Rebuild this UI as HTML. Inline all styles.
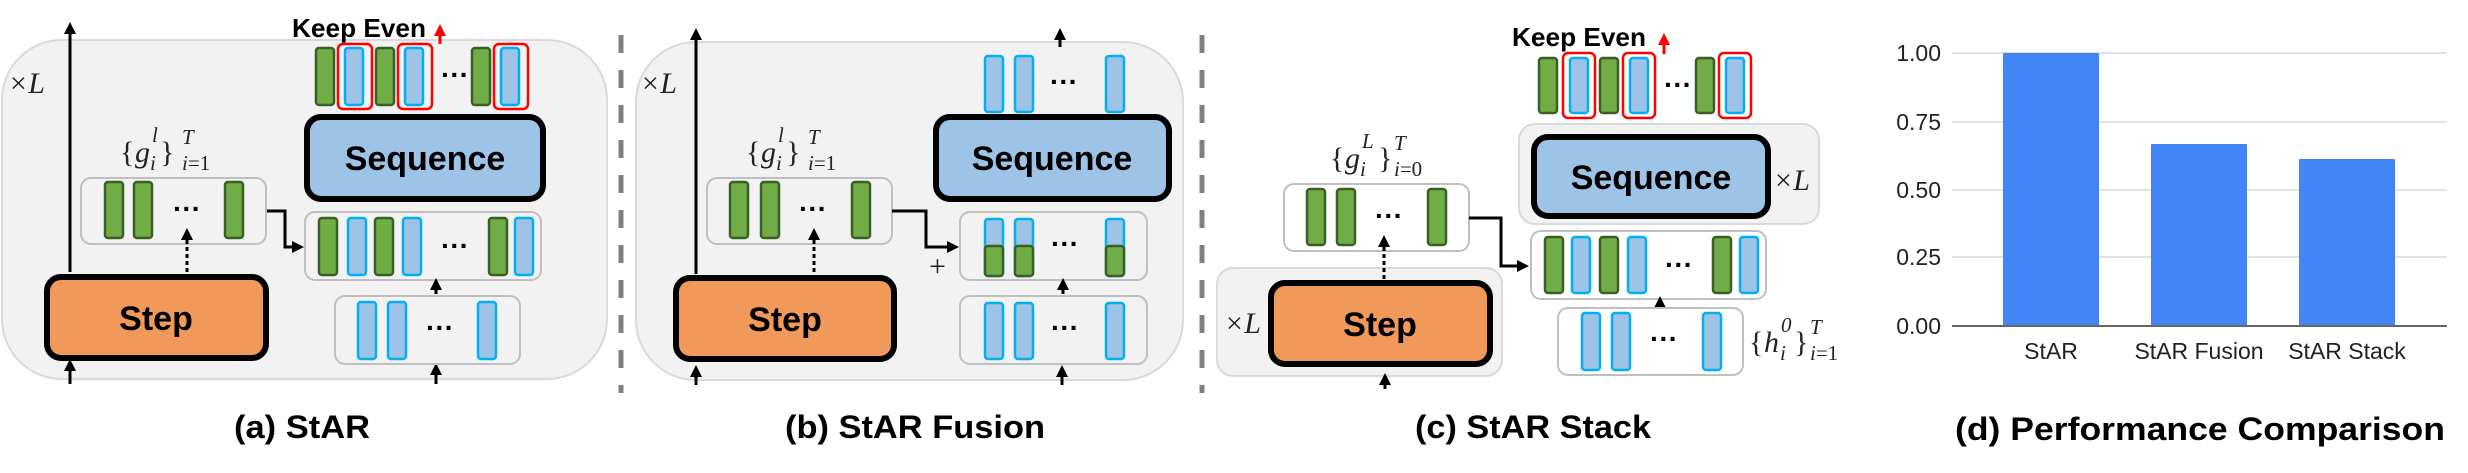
<!DOCTYPE html>
<html><head><meta charset="utf-8"><style>
html,body{margin:0;padding:0;background:#fff;}
svg{display:block;}
.g{fill:#70AD47;stroke:#3A5F24;stroke-width:2.5;}
.b{fill:#9DC3E6;stroke:#00B0F0;stroke-width:2.5;}
.rb{fill:none;stroke:#FF0000;stroke-width:2.5;}
.box{fill:#F2F2F2;stroke:#BFBFBF;stroke-width:2;}
.wbox{fill:#FFFFFF;stroke:#BFBFBF;stroke-width:2;}
.pan{fill:#F2F2F2;stroke:#D9D9D9;stroke-width:2;}
.seq{fill:#9DC3E6;stroke:#000;stroke-width:6;}
.step{fill:#F0995A;stroke:#000;stroke-width:6;}
.ln{stroke:#000;stroke-width:3;fill:none;}
.dl{stroke:#000;stroke-width:3;fill:none;stroke-dasharray:4 3;}
.sep{stroke:#808080;stroke-width:5;stroke-dasharray:18 17;}
.lbl{font-family:"Liberation Sans",sans-serif;font-weight:bold;font-size:34px;fill:#000;}
.cap{font-family:"Liberation Sans",sans-serif;font-weight:bold;font-size:32px;fill:#000;}
.ke{font-family:"Liberation Sans",sans-serif;font-weight:bold;font-size:26px;fill:#000;}
.m{font-family:"Liberation Serif",serif;font-size:30px;fill:#222;}
.ms{font-family:"Liberation Serif",serif;font-size:21px;fill:#222;}
.it{font-style:italic;}
.dots{font-family:"Liberation Sans",sans-serif;font-size:28px;font-weight:bold;fill:#000;}
.ax{font-family:"Liberation Sans",sans-serif;font-size:23px;fill:#222;}
</style></head><body>
<svg width="2468" height="473" viewBox="0 0 2468 473" xmlns="http://www.w3.org/2000/svg">
<defs>
<marker id="ah" markerWidth="4" markerHeight="4" refX="2" refY="2" orient="auto" markerUnits="strokeWidth"><path d="M0,0 L4,2 L0,4 z" fill="#000"/></marker>
<marker id="rh" markerWidth="4" markerHeight="4" refX="2" refY="2" orient="auto" markerUnits="strokeWidth"><path d="M0,0 L4,2 L0,4 z" fill="#f00"/></marker>
</defs>

<!-- separators -->
<line class="sep" x1="621" y1="35" x2="621" y2="393"/>
<line class="sep" x1="1202" y1="35" x2="1202" y2="393"/>

<!-- ================= (a) ================= -->
<rect class="pan" x="2" y="40" width="605" height="339" rx="60"/>
<text class="m it" x="8" y="93">×L</text>
<line class="ln" x1="70" y1="272" x2="70" y2="28" marker-end="url(#ah)"/>
<line class="ln" x1="70" y1="384" x2="70" y2="365" marker-end="url(#ah)"/>
<line class="ln" x1="436" y1="384" x2="436" y2="369" marker-end="url(#ah)"/>
<rect class="step" x="47" y="277" width="219" height="81" rx="14"/>
<text class="lbl" x="156" y="330" text-anchor="middle">Step</text>
<rect class="box" x="81" y="178" width="185" height="66" rx="10"/>
<rect class="g" x="105" y="182" width="18" height="56" rx="3"/>
<rect class="g" x="134" y="182" width="18" height="56" rx="3"/>
<rect class="g" x="225" y="182" width="18" height="56" rx="3"/>
<text class="dots" x="187" y="218" text-anchor="middle">···</text>
<line class="dl" x1="187" y1="272" x2="187" y2="234" marker-end="url(#ah)"/>
<g>
<text class="m" x="120" y="162">{</text><text class="m it" x="135" y="162">g</text>
<text class="ms it" x="152" y="142">l</text><text class="ms it" x="150" y="170">i</text>
<text class="m" x="160" y="162">}</text>
<text class="ms it" x="182" y="144">T</text><text class="ms" x="182" y="170"><tspan class="it">i</tspan>=1</text>
</g>
<polyline class="ln" points="267,211 285,211 285,247 298,247" marker-end="url(#ah)"/>
<rect class="box" x="305" y="212" width="236" height="68" rx="10"/>
<rect class="g" x="319" y="218" width="18" height="57" rx="3"/>
<rect class="b" x="348" y="218" width="18" height="57" rx="3"/>
<rect class="g" x="375" y="218" width="18" height="57" rx="3"/>
<rect class="b" x="403" y="218" width="18" height="57" rx="3"/>
<text class="dots" x="455" y="255" text-anchor="middle">···</text>
<rect class="g" x="489" y="218" width="18" height="57" rx="3"/>
<rect class="b" x="515" y="218" width="18" height="57" rx="3"/>
<line class="ln" x1="436" y1="294" x2="436" y2="284" marker-end="url(#ah)"/>
<rect class="box" x="335" y="296" width="185" height="68" rx="10"/>
<rect class="b" x="358" y="302" width="18" height="57" rx="3"/>
<rect class="b" x="388" y="302" width="18" height="57" rx="3"/>
<text class="dots" x="440" y="337" text-anchor="middle">···</text>
<rect class="b" x="478" y="302" width="18" height="57" rx="3"/>
<rect class="seq" x="307" y="117" width="236" height="82" rx="14"/>
<text class="lbl" x="425" y="170" text-anchor="middle">Sequence</text>
<rect class="g" x="316" y="48" width="18" height="57" rx="3"/>
<rect class="b" x="345" y="48" width="18" height="57" rx="3"/>
<rect class="g" x="376" y="48" width="18" height="57" rx="3"/>
<rect class="b" x="405" y="48" width="18" height="57" rx="3"/>
<text class="dots" x="455" y="84" text-anchor="middle">···</text>
<rect class="g" x="472" y="48" width="18" height="57" rx="3"/>
<rect class="b" x="501" y="48" width="18" height="57" rx="3"/>
<rect class="rb" x="338" y="44" width="34" height="65" rx="5"/>
<rect class="rb" x="398" y="44" width="34" height="65" rx="5"/>
<rect class="rb" x="494" y="44" width="34" height="65" rx="5"/>
<text class="ke" x="292" y="37" textLength="134" lengthAdjust="spacingAndGlyphs">Keep Even</text>
<line x1="440" y1="44" x2="440" y2="30" stroke="#f00" stroke-width="3" marker-end="url(#rh)"/>
<text class="cap" x="302" y="438" text-anchor="middle" textLength="136" lengthAdjust="spacingAndGlyphs">(a) StAR</text>

<!-- ================= (b) ================= -->
<rect class="pan" x="636" y="42" width="547" height="338" rx="60"/>
<text class="m it" x="640" y="93">×L</text>
<line class="ln" x1="696" y1="274" x2="696" y2="34" marker-end="url(#ah)"/>
<line class="ln" x1="696" y1="385" x2="696" y2="371" marker-end="url(#ah)"/>
<line class="ln" x1="1062" y1="385" x2="1062" y2="371" marker-end="url(#ah)"/>
<rect class="step" x="676" y="278" width="218" height="81" rx="14"/>
<text class="lbl" x="785" y="331" text-anchor="middle">Step</text>
<rect class="box" x="707" y="178" width="185" height="66" rx="10"/>
<rect class="g" x="730" y="182" width="18" height="56" rx="3"/>
<rect class="g" x="761" y="182" width="18" height="56" rx="3"/>
<rect class="g" x="852" y="182" width="18" height="56" rx="3"/>
<text class="dots" x="813" y="218" text-anchor="middle">···</text>
<line class="dl" x1="814" y1="272" x2="814" y2="234" marker-end="url(#ah)"/>
<g>
<text class="m" x="746" y="162">{</text><text class="m it" x="761" y="162">g</text>
<text class="ms it" x="778" y="142">l</text><text class="ms it" x="776" y="170">i</text>
<text class="m" x="786" y="162">}</text>
<text class="ms it" x="808" y="144">T</text><text class="ms" x="808" y="170"><tspan class="it">i</tspan>=1</text>
</g>
<polyline class="ln" points="892,211 926,211 926,247 953,247" marker-end="url(#ah)"/>
<text class="m" x="929" y="276">+</text>
<rect class="box" x="960" y="212" width="187" height="68" rx="10"/>
<rect class="b" x="985" y="219" width="18" height="57" rx="3"/>
<rect class="b" x="1015" y="219" width="18" height="57" rx="3"/>
<rect class="b" x="1106" y="219" width="18" height="57" rx="3"/>
<rect class="g" x="985" y="246" width="18" height="30" rx="3"/>
<rect class="g" x="1015" y="246" width="18" height="30" rx="3"/>
<rect class="g" x="1106" y="246" width="18" height="30" rx="3"/>
<text class="dots" x="1065" y="253" text-anchor="middle">···</text>
<line class="ln" x1="1063" y1="294" x2="1063" y2="284" marker-end="url(#ah)"/>
<rect class="box" x="960" y="296" width="187" height="68" rx="10"/>
<rect class="b" x="985" y="303" width="18" height="56" rx="3"/>
<rect class="b" x="1015" y="303" width="18" height="56" rx="3"/>
<rect class="b" x="1106" y="303" width="18" height="56" rx="3"/>
<text class="dots" x="1065" y="337" text-anchor="middle">···</text>
<rect class="seq" x="936" y="117" width="233" height="82" rx="14"/>
<text class="lbl" x="1052" y="170" text-anchor="middle">Sequence</text>
<rect class="b" x="985" y="56" width="18" height="56" rx="3"/>
<rect class="b" x="1015" y="56" width="18" height="56" rx="3"/>
<rect class="b" x="1106" y="56" width="18" height="56" rx="3"/>
<text class="dots" x="1064" y="91" text-anchor="middle">···</text>
<line class="ln" x1="1060" y1="47" x2="1060" y2="34" marker-end="url(#ah)"/>
<text class="cap" x="915" y="438" text-anchor="middle" textLength="260" lengthAdjust="spacingAndGlyphs">(b) StAR Fusion</text>

<!-- ================= (c) ================= -->
<rect class="pan" x="1519" y="124" width="300" height="100" rx="16"/>
<rect class="seq" x="1534" y="137" width="234" height="79" rx="14"/>
<text class="lbl" x="1651" y="189" text-anchor="middle">Sequence</text>
<text class="m it" x="1773" y="190">×L</text>
<rect class="g" x="1539" y="58" width="18" height="55" rx="3"/>
<rect class="b" x="1570" y="58" width="18" height="55" rx="3"/>
<rect class="g" x="1600" y="58" width="18" height="55" rx="3"/>
<rect class="b" x="1630" y="58" width="18" height="55" rx="3"/>
<text class="dots" x="1678" y="94" text-anchor="middle">···</text>
<rect class="g" x="1696" y="58" width="18" height="55" rx="3"/>
<rect class="b" x="1726" y="58" width="18" height="55" rx="3"/>
<rect class="rb" x="1563" y="53" width="32" height="65" rx="5"/>
<rect class="rb" x="1623" y="53" width="32" height="65" rx="5"/>
<rect class="rb" x="1719" y="53" width="32" height="65" rx="5"/>
<text class="ke" x="1512" y="46" textLength="134" lengthAdjust="spacingAndGlyphs">Keep Even</text>
<line x1="1664" y1="54" x2="1664" y2="39" stroke="#f00" stroke-width="3" marker-end="url(#rh)"/>
<g>
<text class="m" x="1330" y="168">{</text><text class="m it" x="1345" y="168">g</text>
<text class="ms it" x="1362" y="148">L</text><text class="ms it" x="1360" y="176">i</text>
<text class="m" x="1378" y="168">}</text>
<text class="ms it" x="1394" y="150">T</text><text class="ms" x="1394" y="176"><tspan class="it">i</tspan>=0</text>
</g>
<rect class="wbox" x="1284" y="184" width="185" height="67" rx="10"/>
<rect class="g" x="1307" y="189" width="18" height="56" rx="3"/>
<rect class="g" x="1337" y="189" width="18" height="56" rx="3"/>
<rect class="g" x="1428" y="189" width="18" height="56" rx="3"/>
<text class="dots" x="1389" y="225" text-anchor="middle">···</text>
<polyline class="ln" points="1469,218 1501,218 1501,266 1523,266" marker-end="url(#ah)"/>
<rect class="wbox" x="1531" y="231" width="235" height="68" rx="10"/>
<rect class="g" x="1545" y="237" width="18" height="56" rx="3"/>
<rect class="b" x="1572" y="237" width="18" height="56" rx="3"/>
<rect class="g" x="1600" y="237" width="18" height="56" rx="3"/>
<rect class="b" x="1628" y="237" width="18" height="56" rx="3"/>
<text class="dots" x="1679" y="274" text-anchor="middle">···</text>
<rect class="g" x="1713" y="237" width="18" height="56" rx="3"/>
<rect class="b" x="1740" y="237" width="18" height="56" rx="3"/>
<line class="ln" x1="1660" y1="310" x2="1660" y2="302" marker-end="url(#ah)"/>
<rect class="wbox" x="1558" y="308" width="185" height="67" rx="10"/>
<rect class="b" x="1582" y="313" width="18" height="57" rx="3"/>
<rect class="b" x="1612" y="313" width="18" height="57" rx="3"/>
<rect class="b" x="1703" y="313" width="18" height="57" rx="3"/>
<text class="dots" x="1664" y="348" text-anchor="middle">···</text>
<g>
<text class="m" x="1749" y="352">{</text><text class="m it" x="1764" y="352">h</text>
<text class="ms it" x="1781" y="332">0</text><text class="ms it" x="1780" y="360">i</text>
<text class="m" x="1794" y="352">}</text>
<text class="ms it" x="1810" y="334">T</text><text class="ms" x="1810" y="360"><tspan class="it">i</tspan>=1</text>
</g>
<rect class="pan" x="1217" y="268" width="285" height="108" rx="16"/>
<rect class="step" x="1271" y="283" width="219" height="81" rx="14"/>
<text class="lbl" x="1380" y="336" text-anchor="middle">Step</text>
<text class="m it" x="1224" y="333">×L</text>
<line class="dl" x1="1384" y1="279" x2="1384" y2="241" marker-end="url(#ah)"/>
<line class="ln" x1="1385" y1="389" x2="1385" y2="379" marker-end="url(#ah)"/>
<text class="cap" x="1533" y="438" text-anchor="middle" textLength="236" lengthAdjust="spacingAndGlyphs">(c) StAR Stack</text>

<!-- ================= (d) ================= -->
<g stroke="#D9D9D9" stroke-width="1.5">
<line x1="1952" y1="53" x2="2447" y2="53"/>
<line x1="1952" y1="122" x2="2447" y2="122"/>
<line x1="1952" y1="190" x2="2447" y2="190"/>
<line x1="1952" y1="257" x2="2447" y2="257"/>
</g>
<rect x="2003" y="53" width="96" height="273" fill="#4285F4" rx="1"/>
<rect x="2151" y="144" width="96" height="182" fill="#4285F4" rx="1"/>
<rect x="2299" y="159" width="96" height="167" fill="#4285F4" rx="1"/>
<line x1="1952" y1="326" x2="2447" y2="326" stroke="#666" stroke-width="2"/>
<g class="ax" text-anchor="end">
<text x="1941" y="61">1.00</text>
<text x="1941" y="130">0.75</text>
<text x="1941" y="198">0.50</text>
<text x="1941" y="265">0.25</text>
<text x="1941" y="334">0.00</text>
</g>
<g class="ax" text-anchor="middle" font-size="21">
<text x="2051" y="359">StAR</text>
<text x="2199" y="359">StAR Fusion</text>
<text x="2347" y="359">StAR Stack</text>
</g>
<text class="cap" x="2200" y="440" text-anchor="middle" font-size="34" textLength="490" lengthAdjust="spacingAndGlyphs">(d) Performance Comparison</text>
</svg>
</body></html>
